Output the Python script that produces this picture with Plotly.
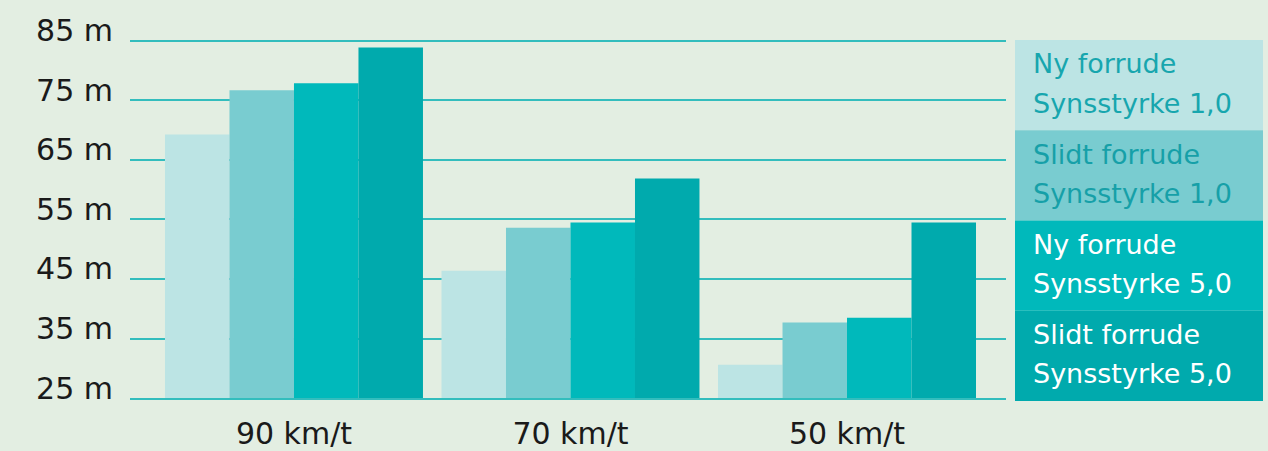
import plotly.graph_objects as go

categories = ["90 km/t", "70 km/t", "50 km/t"]
series_names = ["Ny forrude<br>Synsstyrke 1,0", "Slidt forrude<br>Synsstyrke 1,0",
                "Ny forrude<br>Synsstyrke 5,0", "Slidt forrude<br>Synsstyrke 5,0"]
ny_10 = [69.3, 46.4, 30.6]
slidt_10 = [76.7, 53.6, 37.7]
ny_50 = [77.9, 54.5, 38.5]
slidt_50 = [83.9, 61.9, 54.5]
series_values = [ny_10, slidt_10, ny_50, slidt_50]
tick_vals = [25, 35, 45, 55, 65, 75, 85]
tick_text = [f"{v} m" for v in tick_vals]

bar_colors = ["#bce4e4", "#79ccd0", "#00b9bb", "#00aaad"]
legend_text_colors = ["#17a6ae", "#16a0a8", "#ffffff", "#ffffff"]
bg = "#e3eee2"
grid = "#33bdbd"
font_family = "DejaVu Sans"

fig = go.Figure()
for name, vals, col in zip(series_names, series_values, bar_colors):
    fig.add_trace(go.Bar(x=categories, y=vals, name=name, marker=dict(color=col, line=dict(width=0)),
                         showlegend=False))

W, H = 1268, 451
ml, mr, mt, mb = 130, 262, 38, 53
pw, ph = W - ml - mr, H - mt - mb

def px2paper_x(px):
    return (px - ml) / pw

def px2paper_y(py):
    return (H - mb - py) / ph

shapes = []
annotations = []
box_left, box_right = 1015, 1263
box_top, box_h = 40, 90.25
for i, (name, col, tcol) in enumerate(zip(series_names, bar_colors, legend_text_colors)):
    t = box_top + i * box_h
    shapes.append(dict(type="rect", xref="paper", yref="paper",
                       x0=px2paper_x(box_left), x1=px2paper_x(box_right),
                       y0=px2paper_y(t + box_h), y1=px2paper_y(t),
                       fillcolor=col, line=dict(width=0), layer="above"))
    lines = name.split("<br>")
    for j, ln in enumerate(lines):
        annotations.append(dict(xref="paper", yref="paper", x=px2paper_x(1031),
                                y=px2paper_y(t + 24 + j * 39), xanchor="left", yanchor="middle",
                                text=ln, showarrow=False,
                                font=dict(family=font_family, size=27, color=tcol)))

fig.update_layout(
    width=W, height=H,
    margin=dict(l=ml, r=mr, t=mt, b=mb, autoexpand=False),
    paper_bgcolor=bg, plot_bgcolor=bg,
    barmode="group", bargap=0.067, bargroupgap=0,
    shapes=shapes, annotations=annotations,
    font=dict(family=font_family, size=30, color="#1a1a1a"),
)
fig.update_xaxes(range=[-0.593, 2.575], showgrid=False, zeroline=False,
                 showline=True, linecolor=grid, linewidth=1.5,
                 ticks="", ticklabelstandoff=8, automargin=False,
                 tickfont=dict(family=font_family, size=30, color="#1a1a1a"))
fig.update_yaxes(range=[25, 85.5], tickvals=tick_vals, ticktext=tick_text,
                 showgrid=True, gridcolor=grid, gridwidth=1.5, zeroline=False, showline=False,
                 ticks="", ticklabelstandoff=16, ticklabelshift=-10, automargin=False,
                 tickfont=dict(family=font_family, size=30, color="#1a1a1a"))

fig.write_html("out.html", config=dict(displayModeBar=False),
               post_script="document.body.style.margin='0';document.body.style.overflow='hidden';")
